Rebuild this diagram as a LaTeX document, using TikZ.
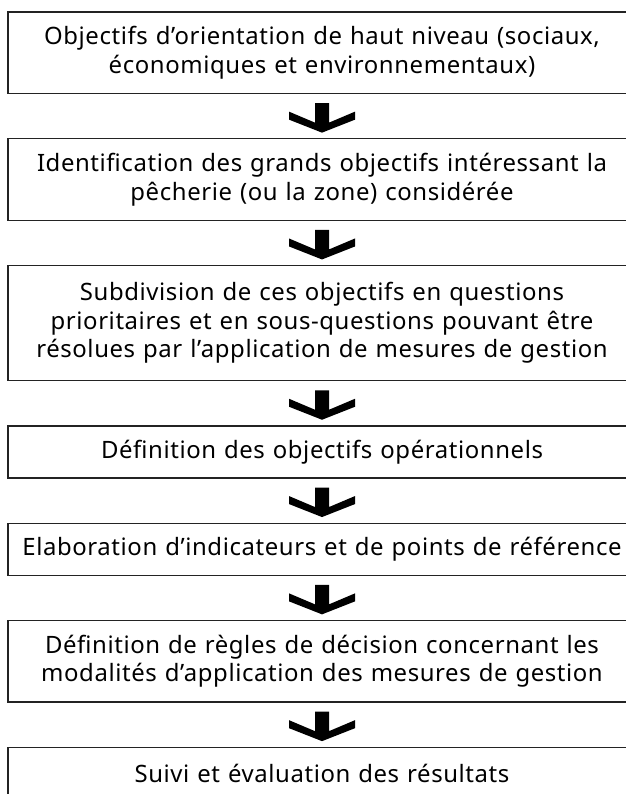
\documentclass[tikz,border=0pt]{standalone}
\usepackage{fontspec}
\setmainfont[LetterSpace=2.5]{Noto Sans}
\usepackage{tikz}
\usetikzlibrary{calc,positioning}
\definecolor{ink}{RGB}{0,0,0}
\definecolor{framegray}{RGB}{35,35,35}
\tikzset{
  stage/.style={draw=framegray,line width=1.3bp,fill=white,align=center,text width=628bp,inner sep=0pt,font=\fontsize{24}{28.5}\selectfont},
  oneline/.style={stage,minimum height=52bp},
  twoline/.style={stage,minimum height=81.5bp},
  threeline/.style={stage,minimum height=115bp},
  flowarrow/.pic={\fill[ink] (-7,13) -- (7,13) -- (7,-6.5) -- (33,4.5) -- (33,-3.5) -- (0,-16.5) -- (-33,-3.5) -- (-33,4.5) -- (-7,-6.5) -- cycle;}
}

\begin{document}
\begin{tikzpicture}[x=1bp,y=1bp,node distance=44bp]
  \clip (0,0) rectangle (626,-794);
  \node[twoline] (goals) at (322,-52.75) {Objectifs d’orientation de haut niveau (sociaux,\\économiques et environnementaux)};
  \node[twoline,below=of goals] (fishery) {Identification des grands objectifs intéressant la\\pêcherie (ou la zone) considérée};
  \node[threeline,below=of fishery] (issues) {Subdivision de ces objectifs en questions\\prioritaires et en sous-questions pouvant être\\résolues par l’application de mesures de gestion};
  \node[oneline,below=of issues] (operational) {Définition des objectifs opérationnels};
  \node[oneline,below=of operational] (indicators) {Elaboration d’indicateurs et de points de référence};
  \node[twoline,below=of indicators] (rules) {Définition de règles de décision concernant les\\modalités d’application des mesures de gestion};
  \node[oneline,below=of rules] (review) {Suivi et évaluation des résultats};
  \pic at ($(goals.south)!0.5!(fishery.north)$) {flowarrow}; \pic at ($(fishery.south)!0.5!(issues.north)$) {flowarrow};
  \pic at ($(issues.south)!0.5!(operational.north)$) {flowarrow}; \pic at ($(operational.south)!0.5!(indicators.north)$) {flowarrow};
  \pic at ($(indicators.south)!0.5!(rules.north)$) {flowarrow}; \pic at ($(rules.south)!0.5!(review.north)$) {flowarrow};
\end{tikzpicture}
\end{document}
